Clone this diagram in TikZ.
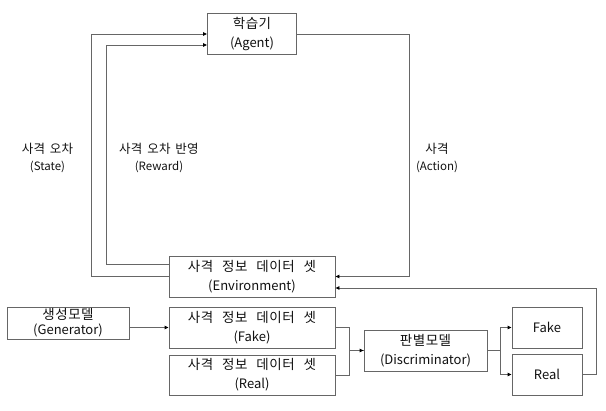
\documentclass[tikz,border=0pt]{standalone}
\usepackage{fontspec}
\setmainfont{Noto Sans CJK KR}
\newfontfamily\krfont{Noto Sans CJK KR}[WordSpace=2.5, LetterSpace=4]
\newfontfamily\krlfont{Noto Sans CJK KR}[WordSpace=1.6, LetterSpace=2]
\usetikzlibrary{arrows.meta}
\definecolor{edge}{HTML}{666666}
\definecolor{txt}{HTML}{111111}
\newcommand{\kb}[1]{{\fontsize{13.5}{19}\krfont #1}}
\newcommand{\kl}[1]{{\fontsize{12.5}{17}\krlfont #1}}
\begin{document}
\begin{tikzpicture}[x=1pt,y=-1pt,
  box/.style={draw=edge, line width=0.9pt, fill=white, inner sep=0pt, align=center,
    font=\fontsize{13}{19}\selectfont, text=txt},
  lbl/.style={align=center, font=\fontsize{11.5}{17}\selectfont, text=txt, inner sep=0pt},
  conn/.style={draw=edge, line width=0.9pt},
  arr/.style={conn, -{Triangle[length=4pt,width=3.6pt,color=black]}}]
\useasboundingbox (0,0) rectangle (606,411);

\node[box, minimum width=89pt, minimum height=41pt] (agent) at (252,34) {\kb{학습기}\\(Agent)};
\node[box, minimum width=166pt, minimum height=41pt] (env) at (252,276.5) {\kb{사격 정보 데이터 셋}\\(Environment)};
\node[box, minimum width=122pt, minimum height=32pt, font=\fontsize{13}{15}\selectfont] (gen) at (68,323) {{\fontsize{13.5}{15}\krfont 생성모델}\\(Generator)};
\node[box, minimum width=166pt, minimum height=41pt] (fake) at (252,327.5) {\kb{사격 정보 데이터 셋}\\(Fake)};
\node[box, minimum width=166pt, minimum height=40pt] (real) at (252,375) {\kb{사격 정보 데이터 셋}\\(Real)};
\node[box, minimum width=123pt, minimum height=41pt] (disc) at (425.5,350.5) {\kb{판별모델}\\(Discriminator)};
\node[box, minimum width=70pt, minimum height=41pt] (fo) at (547,327.5) {Fake};
\node[box, minimum width=70pt, minimum height=41pt] (ro) at (547,374.5) {Real};

\node[lbl] (lstate) at (47.5,157.5) {\kl{사격 오차}\\(State)};
\node[lbl] (lreward) at (159,157.5) {\kl{사격 오차 반영}\\(Reward)};
\node[lbl] (laction) at (437,158) {\kl{사격}\\(Action)};

% State
\draw[arr] (env.west) -- (91,276.5) |- (agent.west);
% Reward
\draw[arr] (env.west |- 0,264) -- (106,264) |- (agent.west |- 0,45);
% Action
\draw[arr] (agent.east) -- (409,34) |- (env.east);
% Feedback from Real
\draw[arr] (ro.east) -- (596,374.5) |- (env.east |- 0,288);
% Generator -> Fake data
\draw[arr] (gen.east |- fake.west) -- (fake.west);
% data -> discriminator
\draw[conn] (fake.east) -- (349,327.5) |- (disc.west);
\draw[arr] (real.east) -- (349,375) |- (disc.west);
% discriminator -> outputs
\draw[arr] (disc.east) -- (500,350.5) |- (fo.west);
\draw[arr] (disc.east) -- (500,350.5) |- (ro.west);
\end{tikzpicture}
\end{document}
